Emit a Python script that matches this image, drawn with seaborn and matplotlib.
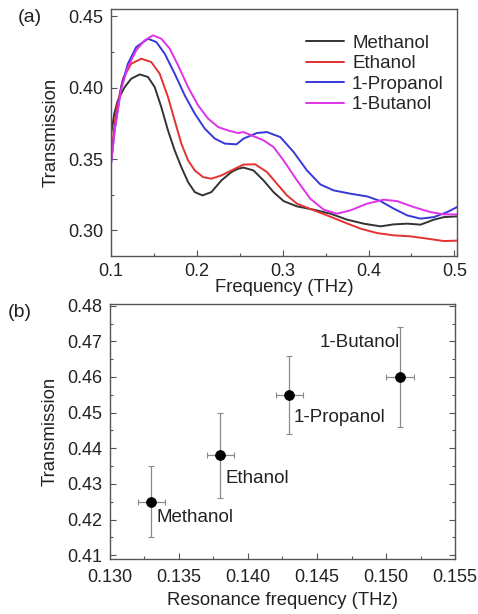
import numpy as np
import pandas as pd
import matplotlib
matplotlib.use("Agg")
import matplotlib.pyplot as plt
import seaborn as sns
from matplotlib.ticker import MultipleLocator

sns.set_theme(style="white")
plt.rcParams['font.family'] = ['Liberation Sans', 'DejaVu Sans']
plt.rcParams['lines.solid_joinstyle'] = 'round'
plt.rcParams['lines.solid_capstyle'] = 'round'

# ---- panel (a) data ----
methanol_f = [0.100, 0.104, 0.108, 0.116, 0.1237, 0.1335, 0.1432, 0.151, 0.1587, 0.1665, 0.1743,
              0.182, 0.1899, 0.1977, 0.2066, 0.217, 0.2287, 0.2404, 0.2482, 0.2544, 0.2661, 0.2777,
              0.2894, 0.3011, 0.3167, 0.3361, 0.3556, 0.3750, 0.3944, 0.4139, 0.4294, 0.445,
              0.4606, 0.4761, 0.4878, 0.503]
methanol_t = [0.3666, 0.382, 0.391, 0.4004, 0.4063, 0.4093, 0.4075, 0.4004, 0.3864, 0.370, 0.356,
              0.3444, 0.3338, 0.3268, 0.3245, 0.3268, 0.335, 0.3409, 0.3432, 0.344, 0.342, 0.335,
              0.3268, 0.3205, 0.3168, 0.3145, 0.3117, 0.3075, 0.3047, 0.3028, 0.3042, 0.3047,
              0.304, 0.3075, 0.3093, 0.3098]

ethanol_f = [0.100, 0.1062, 0.114, 0.1237, 0.1354, 0.147, 0.1568, 0.1665, 0.1743, 0.182, 0.1899,
             0.1977, 0.2074, 0.217, 0.2287, 0.2404, 0.2544, 0.268, 0.2817, 0.2933, 0.305, 0.3167,
             0.3322, 0.3517, 0.3711, 0.3906, 0.41, 0.4294, 0.4489, 0.4684, 0.4878, 0.503]
ethanol_t = [0.3514, 0.384, 0.4063, 0.4168, 0.4203, 0.418, 0.4098, 0.3934, 0.377, 0.3608, 0.349,
             0.342, 0.3373, 0.3362, 0.3385, 0.342, 0.3461, 0.3463, 0.3409, 0.3327, 0.3245, 0.3187,
             0.315, 0.3105, 0.3058, 0.3012, 0.2981, 0.2965, 0.2958, 0.2942, 0.2925, 0.2928]

propanol_f = [0.100, 0.1043, 0.112, 0.1198, 0.1295, 0.1432, 0.1529, 0.1627, 0.1743, 0.186, 0.1977,
              0.2093, 0.221, 0.2327, 0.2462, 0.2544, 0.27, 0.2817, 0.2972, 0.3128, 0.3283, 0.3439,
              0.3594, 0.3789, 0.3983, 0.4139, 0.4294, 0.445, 0.4606, 0.4761, 0.4917, 0.503]
propanol_t = [0.3455, 0.370, 0.4004, 0.4168, 0.4285, 0.4343, 0.432, 0.4238, 0.4098, 0.3946, 0.3818,
              0.3713, 0.3643, 0.3608, 0.3603, 0.3643, 0.3682, 0.3689, 0.3654, 0.3549, 0.342, 0.3322,
              0.328, 0.3257, 0.3238, 0.3205, 0.3152, 0.3105, 0.3082, 0.3093, 0.3128, 0.3163]

butanol_f = [0.100, 0.1043, 0.112, 0.1198, 0.1295, 0.1393, 0.149, 0.1587, 0.1685, 0.1782, 0.1899,
             0.2015, 0.2132, 0.2249, 0.2365, 0.2482, 0.2544, 0.2777, 0.2894, 0.3011, 0.3167, 0.3322,
             0.3478, 0.3633, 0.3789, 0.3983, 0.4178, 0.4333, 0.4528, 0.4722, 0.4878, 0.503]
butanol_t = [0.3455, 0.370, 0.399, 0.4145, 0.4262, 0.4332, 0.4367, 0.4343, 0.4274, 0.4157, 0.4004,
             0.3876, 0.3783, 0.3724, 0.370, 0.3682, 0.3689, 0.3631, 0.3584, 0.349, 0.335, 0.3222,
             0.3145, 0.3117, 0.314, 0.3187, 0.3215, 0.3205, 0.3163, 0.3128, 0.3112, 0.3112]

solvents = ["Methanol", "Ethanol", "1-Propanol", "1-Butanol"]
colors = ["#333333", "#e33232", "#3838d8", "#e032e8"]

# ---- panel (b) data ----
res_freq = [0.133, 0.138, 0.143, 0.151]
res_trans = [0.425, 0.438, 0.455, 0.460]
freq_err = [0.001, 0.001, 0.001, 0.001]
trans_err = [0.010, 0.012, 0.011, 0.014]
label_x = [0.1334, 0.1384, 0.1433, 0.1452]
label_y = [0.4205, 0.4315, 0.4487, 0.4697]

frames = []
for name, f, t in [(solvents[0], methanol_f, methanol_t), (solvents[1], ethanol_f, ethanol_t),
                   (solvents[2], propanol_f, propanol_t), (solvents[3], butanol_f, butanol_t)]:
    frames.append(pd.DataFrame({"Frequency": f, "Transmission": t, "Solvent": name}))
df_a = pd.concat(frames, ignore_index=True)
df_b = pd.DataFrame({"freq": res_freq, "trans": res_trans, "Solvent": solvents})

fig = plt.figure(figsize=(4.78, 6.14), dpi=100)
ax1 = fig.add_axes([0.232, 0.583, 0.724, 0.402])
ax2 = fig.add_axes([0.230, 0.090, 0.722, 0.415])

spine_c = "#555555"
tick_fs = 13
lab_fs = 13.3
txt_c = "#222222"

# panel (a)
sns.lineplot(data=df_a, x="Frequency", y="Transmission", hue="Solvent", hue_order=solvents,
             palette=colors, linewidth=1.4, ax=ax1, sort=True, estimator=None)
ax1.xaxis.set_major_locator(MultipleLocator(0.1))
ax1.xaxis.set_minor_locator(MultipleLocator(0.05))
ax1.yaxis.set_major_locator(MultipleLocator(0.05))
ax1.yaxis.set_minor_locator(MultipleLocator(0.025))
ax1.set_xlim(0.1, 0.503)
ax1.set_ylim(0.282, 0.455)
ax1.xaxis.set_major_formatter(matplotlib.ticker.FormatStrFormatter("%.1f"))
ax1.yaxis.set_major_formatter(matplotlib.ticker.FormatStrFormatter("%.2f"))
ax1.set_xlabel("Frequency (THz)", fontsize=lab_fs, labelpad=-1)
ax1.set_ylabel("Transmission", fontsize=lab_fs, labelpad=6)
leg = ax1.legend(loc="upper right", frameon=False, fontsize=13.5, handlelength=2.0,
                 handletextpad=0.45, labelspacing=0.18, bbox_to_anchor=(1.0, 0.95),
                 borderaxespad=0.3)
ax1.text(-0.27, 0.965, "(a)", transform=ax1.transAxes, fontsize=14, va="center", ha="left",
         color=txt_c)

# panel (b)
ax2.errorbar(df_b["freq"], df_b["trans"], xerr=freq_err, yerr=trans_err, fmt="none",
             ecolor="#8a8a8a", elinewidth=0.9, capsize=2.5, capthick=0.8, zorder=1)
sns.scatterplot(data=df_b, x="freq", y="trans", color="black", s=50, edgecolor="black",
                ax=ax2, zorder=3, legend=False)
for name, lx, ly in zip(solvents, label_x, label_y):
    ax2.text(lx, ly, name, fontsize=13.5, ha="left", va="center", color=txt_c)
ax2.xaxis.set_major_locator(MultipleLocator(0.005))
ax2.xaxis.set_minor_locator(MultipleLocator(0.0025))
ax2.yaxis.set_major_locator(MultipleLocator(0.01))
ax2.yaxis.set_minor_locator(MultipleLocator(0.005))
ax2.set_xlim(0.130, 0.155)
ax2.set_ylim(0.409, 0.4805)
ax2.xaxis.set_major_formatter(matplotlib.ticker.FormatStrFormatter("%.3f"))
ax2.yaxis.set_major_formatter(matplotlib.ticker.FormatStrFormatter("%.2f"))
ax2.set_xlabel("Resonance frequency (THz)", fontsize=lab_fs, labelpad=4)
ax2.set_ylabel("Transmission", fontsize=lab_fs, labelpad=6)
ax2.text(-0.296, 0.965, "(b)", transform=ax2.transAxes, fontsize=14, va="center", ha="left",
         color=txt_c)

for ax in (ax1, ax2):
    for s in ax.spines.values():
        s.set_color(spine_c)
        s.set_linewidth(1.0)
    ax.tick_params(which="both", direction="in", color=spine_c, labelsize=tick_fs,
                   labelcolor=txt_c, bottom=True, left=True)
    ax.tick_params(which="major", length=4, width=0.8)
    ax.tick_params(which="minor", length=2.5, width=0.8)
    ax.tick_params(axis="y", which="major", pad=5.5)
    ax.xaxis.label.set_color(txt_c)
    ax.yaxis.label.set_color(txt_c)
ax1.tick_params(axis="x", which="major", pad=5)
ax2.tick_params(axis="x", which="major", pad=7.5)
ax2.tick_params(axis="y", which="both", right=True)

fig.savefig("out.png", dpi=100)
